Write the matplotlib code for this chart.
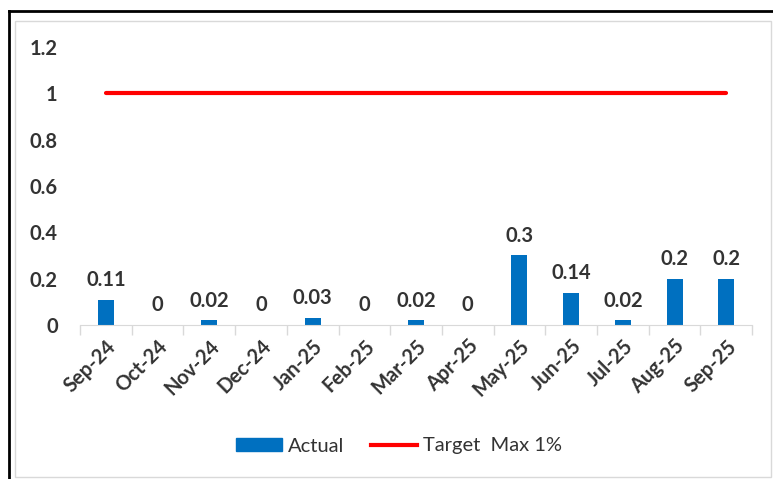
import matplotlib.pyplot as plt
import numpy as np
from matplotlib.lines import Line2D
from matplotlib.patches import Rectangle

months = ["Sep-24", "Oct-24", "Nov-24", "Dec-24", "Jan-25", "Feb-25", "Mar-25",
          "Apr-25", "May-25", "Jun-25", "Jul-25", "Aug-25", "Sep-25"]
actual = [0.11, 0, 0.02, 0, 0.03, 0, 0.02, 0, 0.3, 0.14, 0.02, 0.2, 0.2]
target = [1] * len(months)

plt.rcParams["font.family"] = ["Lato", "DejaVu Sans"]
text_color = "#333333"

fig = plt.figure(figsize=(7.73, 4.79), dpi=100)
ax = fig.add_axes([0.1035, 0.3215, 0.8695, 0.5805])

x = np.arange(len(months))
ax.bar(x, actual, width=0.31, color="#0070C0", zorder=2)
ax.plot(x, target, color="#FF0000", linewidth=3, solid_capstyle="round", zorder=3)

for xi, v in zip(x, actual):
    ax.annotate(f"{v:g}", (xi, v), xytext=(0, 7), textcoords="offset points",
                ha="center", va="bottom", fontsize=14.5, fontweight="bold", color=text_color)

ax.set_xlim(-0.5, len(months) - 0.5)
ax.set_ylim(0, 1.2)
ax.set_yticks([0, 0.2, 0.4, 0.6, 0.8, 1.0, 1.2])
ax.set_yticklabels(["0", "0.2", "0.4", "0.6", "0.8", "1", "1.2"])
ax.set_xticks(x)
ax.set_xticklabels(months, rotation=45, ha="right", rotation_mode="anchor")
ax.set_xticks(np.arange(-0.5, len(months)), minor=True)
ax.tick_params(axis="x", which="major", length=0, pad=8, labelsize=14.5, labelcolor=text_color)
ax.tick_params(axis="x", which="minor", length=7, color="#D9D9D9", width=1)
ax.tick_params(axis="y", length=0, pad=16, labelsize=14.5, labelcolor=text_color)
for lab in ax.get_xticklabels() + ax.get_yticklabels():
    lab.set_fontweight("bold")

for side in ["top", "right", "left"]:
    ax.spines[side].set_visible(False)
ax.spines["bottom"].set_color("#D9D9D9")

handles = [Rectangle((0, 0), 1, 1, color="#0070C0"),
           Line2D([0], [0], color="#FF0000", linewidth=3)]
fig.legend(handles, ["Actual", "Target  Max 1%"], loc="center", bbox_to_anchor=(399 / 773, 1 - 446 / 479),
           ncol=2, frameon=False, fontsize=14.5, labelcolor=text_color,
           handlelength=2.3, handleheight=0.6, handletextpad=0.3, columnspacing=1.3)

# outer black frame and inner grey chart border
fig.add_artist(Line2D([9 / 773, 9 / 773], [0, 1 - 11 / 479], color="black", linewidth=2))
fig.add_artist(Line2D([9 / 773, 1], [1 - 11 / 479, 1 - 11 / 479], color="black", linewidth=2))
fig.add_artist(Rectangle((15 / 773, 2 / 479), 756 / 773, 456 / 479, fill=False,
                         edgecolor="#D9D9D9", linewidth=1))

fig.savefig("out.png", dpi=100)
